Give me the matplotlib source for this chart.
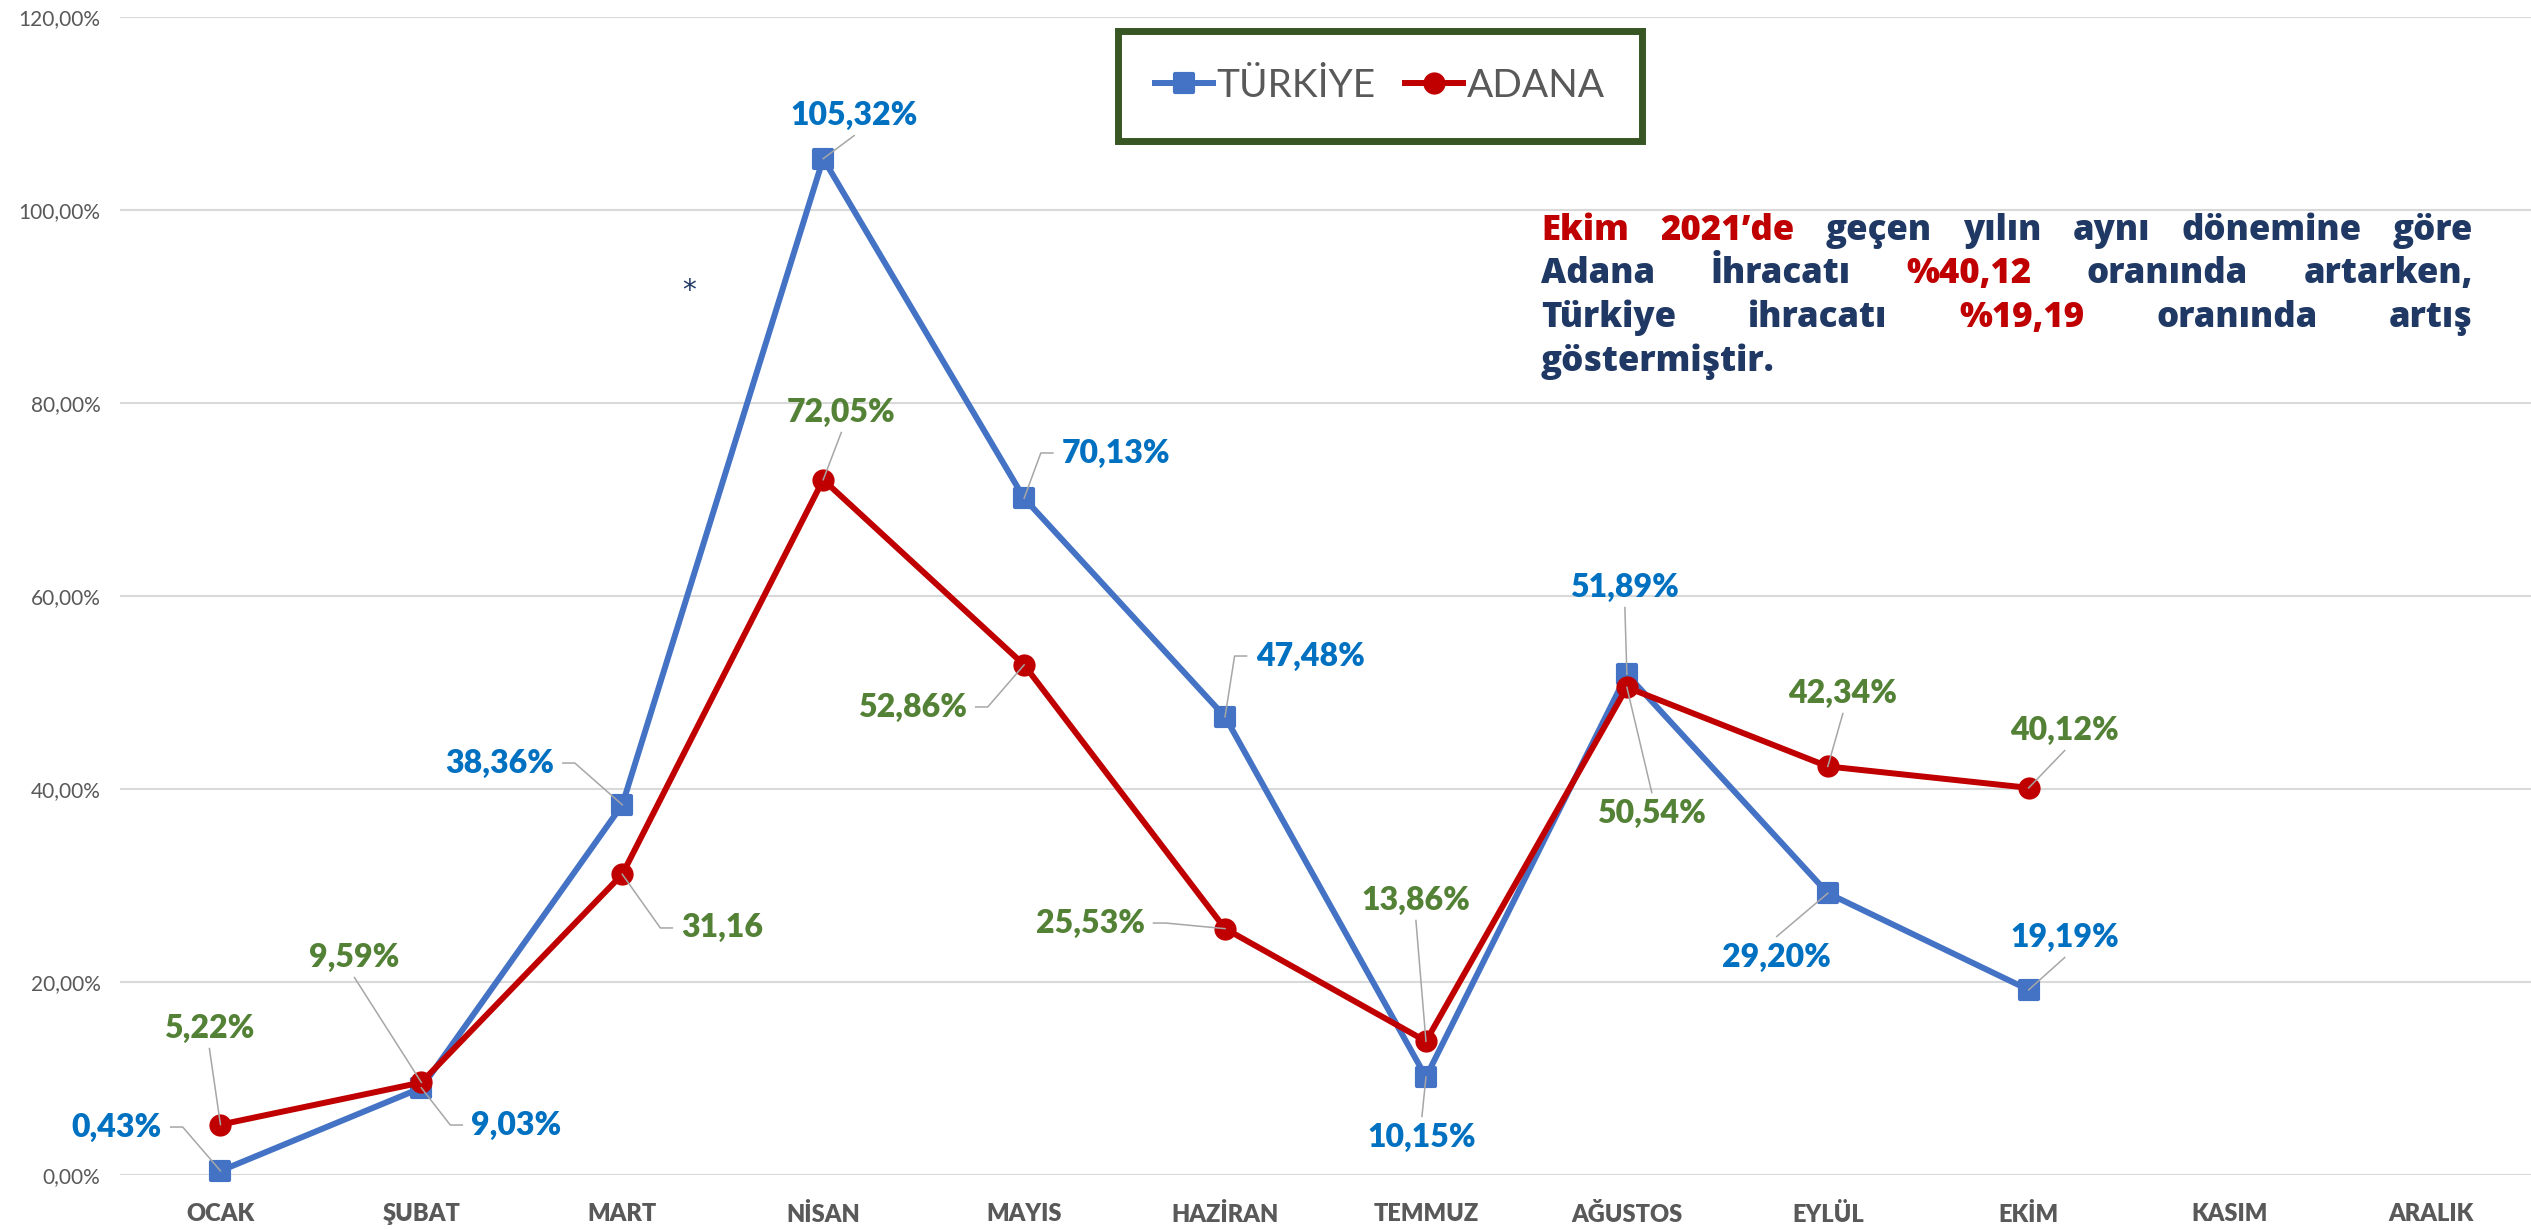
import matplotlib
matplotlib.use('Agg')
import matplotlib.pyplot as plt
from matplotlib.markers import MarkerStyle
from matplotlib.lines import Line2D
from matplotlib.transforms import IdentityTransform

# --- data -------------------------------------------------------------
months = ['OCAK', 'ŞUBAT', 'MART', 'NİSAN', 'MAYIS', 'HAZİRAN', 'TEMMUZ',
          'AĞUSTOS', 'EYLÜL', 'EKİM', 'KASIM', 'ARALIK']
turkiye = [0.43, 9.03, 38.36, 105.32, 70.13, 47.48, 10.15, 51.89, 29.20, 19.19]
adana = [5.22, 9.59, 31.16, 72.05, 52.86, 25.53, 13.86, 50.54, 42.34, 40.12]
adana_pct = [True, True, False, True, True, True, True, True, True, True]
y_ticks = [0, 20, 40, 60, 80, 100, 120]

# label placement (x, y in data units, side of the point)
tr_label_pos = [(-0.517, 4.97, 'L'), (1.473, 5.18, 'R'), (1.388, 42.69, 'L'),
                (3.154, 109.84, 'A'), (4.458, 74.82, 'R'), (5.423, 53.78, 'R'),
                (5.980, 3.94, 'B'), (6.990, 60.93, 'A'), (7.746, 22.59, 'B'),
                (9.179, 24.66, 'A')]
ad_label_pos = [(-0.055, 15.23, 'A'), (0.667, 22.59, 'A'), (2.498, 25.60, 'R'),
                (3.090, 79.07, 'A'), (3.443, 48.50, 'L'), (4.328, 26.11, 'L'),
                (5.950, 28.50, 'A'), (7.124, 37.51, 'B'), (8.075, 49.95, 'A'),
                (9.179, 46.11, 'A')]

W, H = 2531, 1230
BLUE, RED = '#4472C4', '#C00000'
LBL_BLUE, LBL_GREEN = '#0070C0', '#538135'
GRAY = '#595959'
NAVY = '#1F3864'

plt.rcParams['font.family'] = ['Lato', 'DejaVu Sans']

fig = plt.figure(figsize=(W / 100, H / 100), dpi=100)
ax = fig.add_axes([120 / W, 1 - 1175 / H, 1 - 120 / W, (1175 - 17) / H])

x = list(range(len(turkiye)))
sq = MarkerStyle('s', joinstyle='round')
l1, = ax.plot(x, turkiye, color=BLUE, lw=4.3, marker=sq, ms=13, mew=3,
              mfc=BLUE, mec=BLUE, clip_on=False, zorder=3,
              solid_joinstyle='round', label='TÜRKİYE')
l2, = ax.plot(x, adana, color=RED, lw=4.3, marker='o', ms=16, mew=0,
              mfc=RED, clip_on=False, zorder=4,
              solid_joinstyle='round', label='ADANA')

ax.set_xlim(-0.5, 11.5)
ax.set_ylim(0, 120)
ax.set_xticks(range(len(months)))
ax.set_xticklabels(months, fontsize=17, fontweight='heavy', color=GRAY)
ax.set_yticks(y_ticks)
ax.set_yticklabels([f'{v},00%' for v in y_ticks], fontsize=15, color=GRAY)
ax.tick_params(axis='both', length=0)
ax.tick_params(axis='y', pad=14)
ax.tick_params(axis='x', pad=20)
for s in ax.spines.values():
    s.set_visible(False)
ax.grid(axis='y', color='#D9D9D9', lw=1.5)
ax.set_axisbelow(True)

# data labels
labels = []
for i, v in enumerate(turkiye):
    txt = f'{v:.2f}'.replace('.', ',') + '%'
    lx, ly, side = tr_label_pos[i]
    t = ax.text(lx, ly, txt, color=LBL_BLUE, fontsize=23, fontweight='heavy',
                ha='center', va='center', zorder=6)
    labels.append((t, i, v, side))
for i, v in enumerate(adana):
    txt = f'{v:.2f}'.replace('.', ',') + ('%' if adana_pct[i] else '')
    lx, ly, side = ad_label_pos[i]
    t = ax.text(lx, ly, txt, color=LBL_GREEN, fontsize=23, fontweight='heavy',
                ha='center', va='center', zorder=6)
    labels.append((t, i, v, side))

# legend
leg = ax.legend(handles=[l1, l2], loc='center', ncol=2,
                bbox_to_anchor=(1380 / W, 1 - 86 / H),
                bbox_transform=fig.transFigure, fontsize=28,
                handlelength=1.5, handletextpad=0.1, columnspacing=0.75,
                borderpad=0.95, fancybox=False, framealpha=1)
leg.get_frame().set_edgecolor('#375623')
leg.get_frame().set_linewidth(5)
for t in leg.get_texts():
    t.set_color(GRAY)

fig.canvas.draw()
renderer = fig.canvas.get_renderer()

# leader lines, drawn in pixel space
for t, i, v, side in labels:
    bb = t.get_window_extent(renderer)
    px, py = ax.transData.transform((i, v))
    cx, cy = (bb.x0 + bb.x1) / 2, (bb.y0 + bb.y1) / 2
    if side == 'L':
        xs, ys = [bb.x1 + 9, bb.x1 + 21, px], [cy, cy, py]
    elif side == 'R':
        xs, ys = [bb.x0 - 9, bb.x0 - 21, px], [cy, cy, py]
    elif side == 'A':
        xs, ys = [cx, px], [bb.y0 - 6, py]
    else:
        xs, ys = [cx, px], [bb.y1 + 6, py]
    fig.add_artist(Line2D(xs, ys, transform=IdentityTransform(),
                          color='#A6A6A6', lw=1.1, zorder=5))

# justified text block
lines = [
    [('Ekim', RED), ('2021’de', RED), ('geçen', NAVY), ('yılın', NAVY),
     ('aynı', NAVY), ('dönemine', NAVY), ('göre', NAVY)],
    [('Adana', NAVY), ('İhracatı', NAVY), ('%40,12', RED), ('oranında', NAVY),
     ('artarken,', NAVY)],
    [('Türkiye', NAVY), ('ihracatı', NAVY), ('%19,19', RED), ('oranında', NAVY),
     ('artış', NAVY)],
    [('göstermiştir.', NAVY)],
]
baselines = [240, 283, 327, 371]
x_left, x_right = 1541, 2473
for li, (words, base) in enumerate(zip(lines, baselines)):
    objs = []
    for w, c in words:
        tt = fig.text(0, H - base, w, color=c, fontsize=25, fontweight='heavy',
                      family=['Open Sans', 'DejaVu Sans'], va='baseline',
                      ha='left', transform=IdentityTransform())
        objs.append(tt)
    widths = [o.get_window_extent(renderer).width for o in objs]
    if li < len(lines) - 1 and len(objs) > 1:
        gap = (x_right - x_left - sum(widths)) / (len(objs) - 1)
    else:
        gap = 12
    xp = x_left
    for o, wd in zip(objs, widths):
        o.set_x(xp)
        xp += wd + gap

fig.text(689 / W, 1 - 291 / H, '*', color=NAVY, fontsize=20,
         family='DejaVu Sans', ha='center', va='center')

fig.savefig('out.png', dpi=100)
